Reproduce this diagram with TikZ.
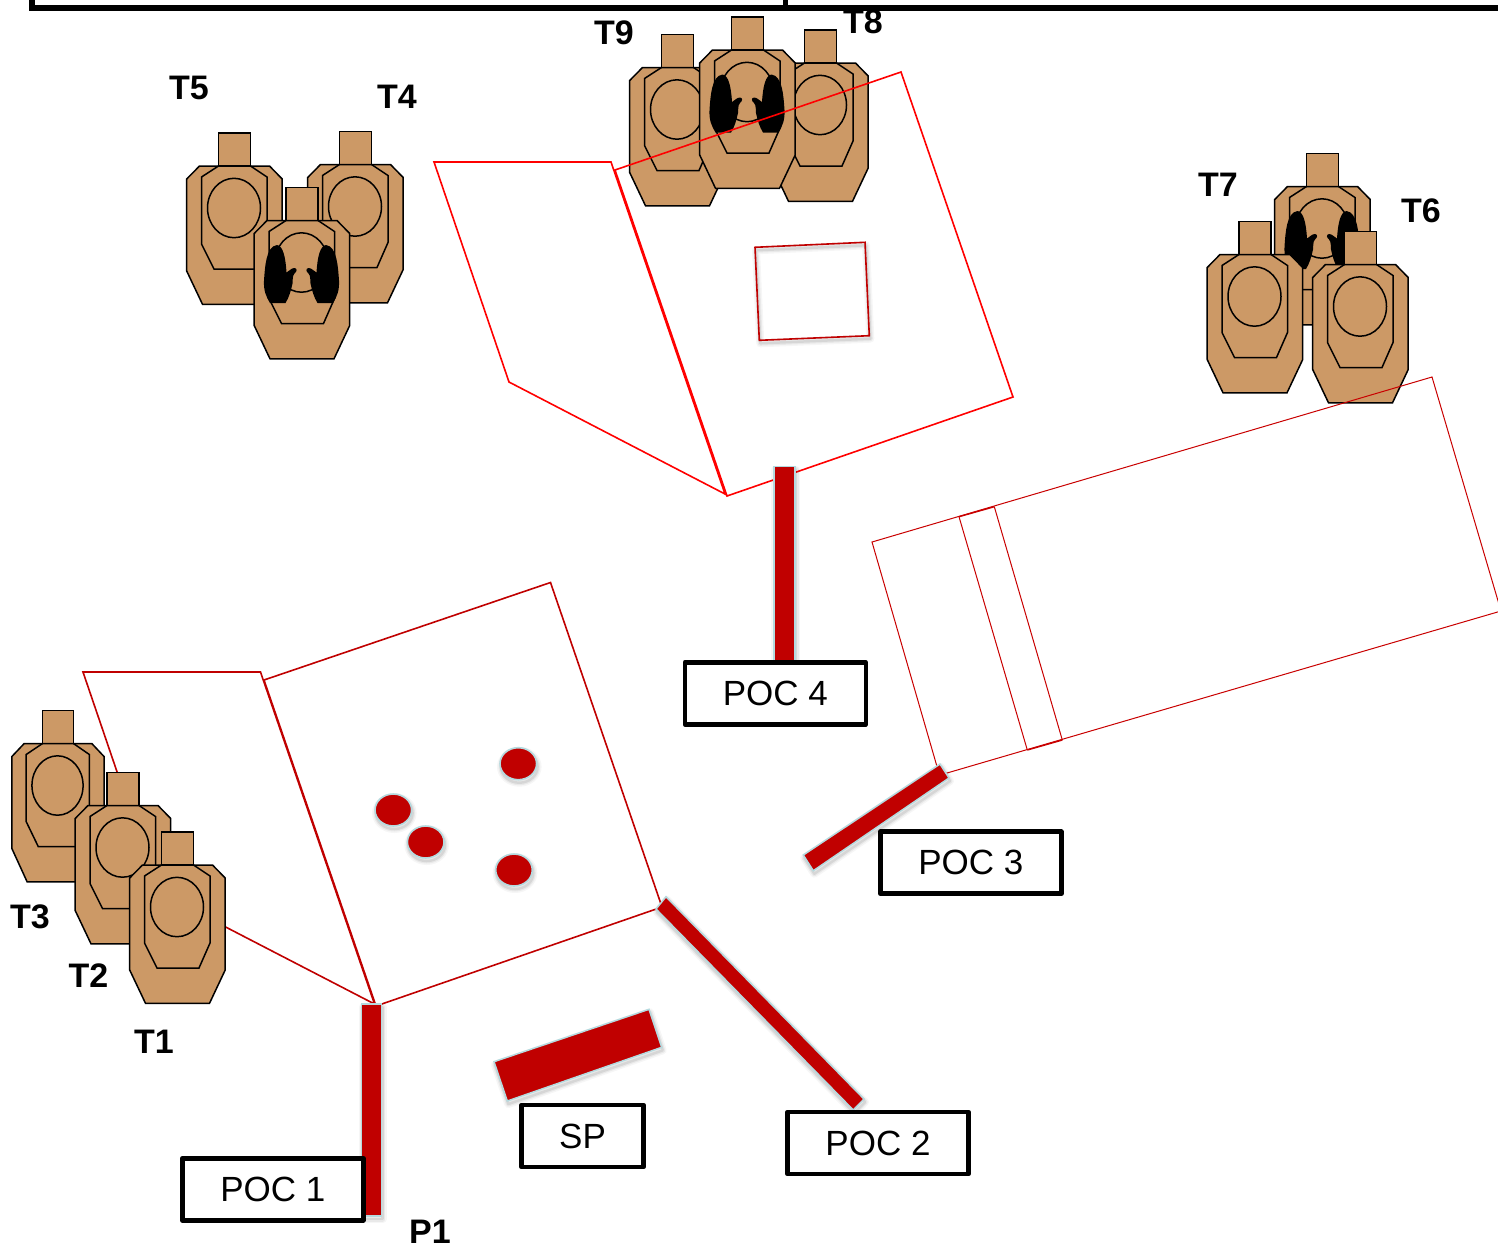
\documentclass[tikz,border=0pt]{standalone}
\usepackage{fontspec}
\setmainfont{Liberation Sans}
\definecolor{tan}{HTML}{CC9966}
\definecolor{bar}{HTML}{C00000}
\definecolor{halo}{HTML}{B5DADF}
\newcommand{\handshape}{%
  \fill[black] (-25,24.5) .. controls (-19,25.5) and (-16.5,36) .. (-15.5,52)
      .. controls (-13,51) and (-11,47.5) .. (-7.5,47.5)
      .. controls (-4.5,48) and (-5,51) .. (-7.5,53)
      .. controls (-10,55) and (-9,62) .. (-9.5,63)
      .. controls (-11,70) and (-13,77) .. (-16.5,82.5)
      -- (-32,82.5) .. controls (-36,76) and (-38.5,70) .. (-38,60)
      .. controls (-37,46) and (-36,26) .. (-25,24.5) -- cycle;}
\tikzset{
  softshadow/.style={
    preaction={draw=black,draw opacity=.035,line width=8pt,line join=round,transform canvas={shift={(1pt,-3pt)}}},
    preaction={draw=black,draw opacity=.05,line width=5pt,line join=round,transform canvas={shift={(1pt,-3pt)}}},
    preaction={draw=black,draw opacity=.08,line width=2.5pt,line join=round,transform canvas={shift={(1pt,-3pt)}}}},
  redbar/.style={softshadow,fill=bar,draw=halo,line width=1.5pt},
  disc/.style={softshadow,fill=bar,draw=halo,line width=1.6pt},
  zoneA/.style={draw=bar,line width=1.6pt,line join=miter},
  zoneB/.style={draw=red,line width=1.6pt,line join=miter},
  zoneC/.style={draw=bar!85!red,line width=1pt,line join=miter},
  pocbox/.style={draw=black,fill=white,line width=4.6pt,line join=round,minimum width=181pt,minimum height=62pt,inner sep=0pt,font=\fontsize{35}{38}\selectfont},
  tlabel/.style={inner sep=0pt,font=\fontsize{34}{36}\selectfont\bfseries},
  outline/.style={draw=black,line width=1.5pt,line join=miter},
  target/.pic={
    \path[outline,fill=tan] (-16,0) -- (-16,-33) -- (16,-33) -- (16,0) -- cycle;
    \path[outline,fill=tan] (-35,0) -- (35,0) -- (47.7,13) -- (47.7,105) -- (32,138.3) -- (-32,138.3) -- (-47.8,105) -- (-47.8,13) -- cycle;
    \path[outline] (-16,0) -- (-33,11) -- (-33,78) -- (-20.5,103) -- (21.5,103) -- (32.5,78) -- (32.5,11) -- (16,0);
    \path[outline] (-0.5,42) ellipse [x radius=26.5,y radius=29.7];
  },
  hands/.pic={
    \handshape
    \begin{scope}[shift={(-1,0)},xscale=-1]
      \handshape
    \end{scope}
  },
}
\begin{document}
\begin{tikzpicture}[x=1pt,y=-1pt]
\clip (0,0) rectangle (1498,1248);
\fill[white] (0,0) rectangle (1498,1248);
% frame at top
\draw[black,line width=6pt,line join=miter] (32,-6) -- (32,8) -- (1505,8);
\draw[black,line width=5pt] (785.5,-6) -- (785.5,8);
% lower zone
\draw[zoneA] (83,672) -- (260.5,672) -- (374.5,1004) -- (158,892) -- cycle;
\draw[zoneA] (264,680) -- (550.5,582.5) -- (662,907) -- (376,1006) -- cycle;
% targets T3 T2 T1
\pic[xscale=.965] at (58,743.5) {target};
\pic at (123,805.5) {target};
\pic at (177.5,865) {target};
% targets T5 T4 and hands
\pic at (234.5,166) {target};
\pic at (355.5,164.5) {target};
\pic at (302,220.5) {target};
\pic at (302,220.5) {hands};
% targets T9 T8 and hands
\pic at (677.5,67.5) {target};
\pic at (820.5,63) {target};
\pic at (747.5,50) {target};
\pic at (747.5,50) {hands};
% upper zone
\draw[zoneB] (434,162) -- (611,162) -- (725,494) -- (509,382) -- cycle;
\draw[zoneB] (615,170) -- (901,72) -- (1013,397) -- (727,496) -- cycle;
% targets T7 T6 and hands
\pic at (1322.5,186.5) {target};
\pic at (1322.5,186.5) {hands};
\pic at (1255,254.5) {target};
\pic at (1360.5,264.5) {target};
% right zone
\draw[zoneC] (872,542) -- (1432,377) -- (1501,611) -- (939.5,775.2) -- cycle;
\draw[zoneC] (959,516.7) -- (1027.3,750);
\draw[zoneC] (994.3,506.7) -- (1062.3,740);
\draw[zoneC,line width=1.4pt] (959,516.7) -- (994.3,506.7);
\draw[zoneC,line width=1.4pt] (1027.3,750) -- (1062.3,740);
% inner square
\draw[softshadow,draw=bar,line width=1.6pt] (755,247.3) -- (865,242.3) -- (869.3,335.7) -- (759.3,340.3) -- cycle;
% discs
\path[disc] (518.3,763.7) ellipse [x radius=18.3,y radius=16];
\path[disc] (393.3,810) ellipse [x radius=18.3,y radius=16];
\path[disc] (425.7,842) ellipse [x radius=18.3,y radius=16];
\path[disc] (514,870) ellipse [x radius=18.3,y radius=16];
% bars
\path[redbar] (361.7,1004) rectangle (381.7,1216);
\path[redbar] (494,1061.7) -- (649,1009.3) -- (661.7,1047.3) -- (507.3,1101) -- cycle;
\path[redbar] (774,466.7) rectangle (795,665);
\path[redbar] (940,764) -- (949,778) -- (813.3,870.7) -- (803.3,855) -- cycle;
\path[redbar] (666,896.7) -- (656,909) -- (853.3,1110) -- (864,1099) -- cycle;
% boxes
\node[pocbox] (poc1) at (272.8,1189.3) {POC 1};
\node[pocbox] (poc2) at (878,1143) {POC 2};
\node[pocbox] (poc3) at (970.8,862.7) {POC 3};
\node[pocbox] (poc4) at (775.3,693.3) {POC 4};
\node[pocbox,minimum width=121.5pt] (sp) at (582.5,1136) {SP};
% labels
\node[tlabel] (t1) at (154,1042) {T1};
\node[tlabel] (t2) at (88.5,976) {T2};
\node[tlabel] (t3) at (30,917) {T3};
\node[tlabel] (t4) at (397,97) {T4};
\node[tlabel] (t5) at (189,88) {T5};
\node[tlabel] (t6) at (1421,211) {T6};
\node[tlabel] (t7) at (1218,185) {T7};
\node[tlabel] (t8) at (863,22) {T8};
\node[tlabel] (t9) at (614,33) {T9};
\node[tlabel] (p1) at (430,1232) {P1};
\end{tikzpicture}
\end{document}
